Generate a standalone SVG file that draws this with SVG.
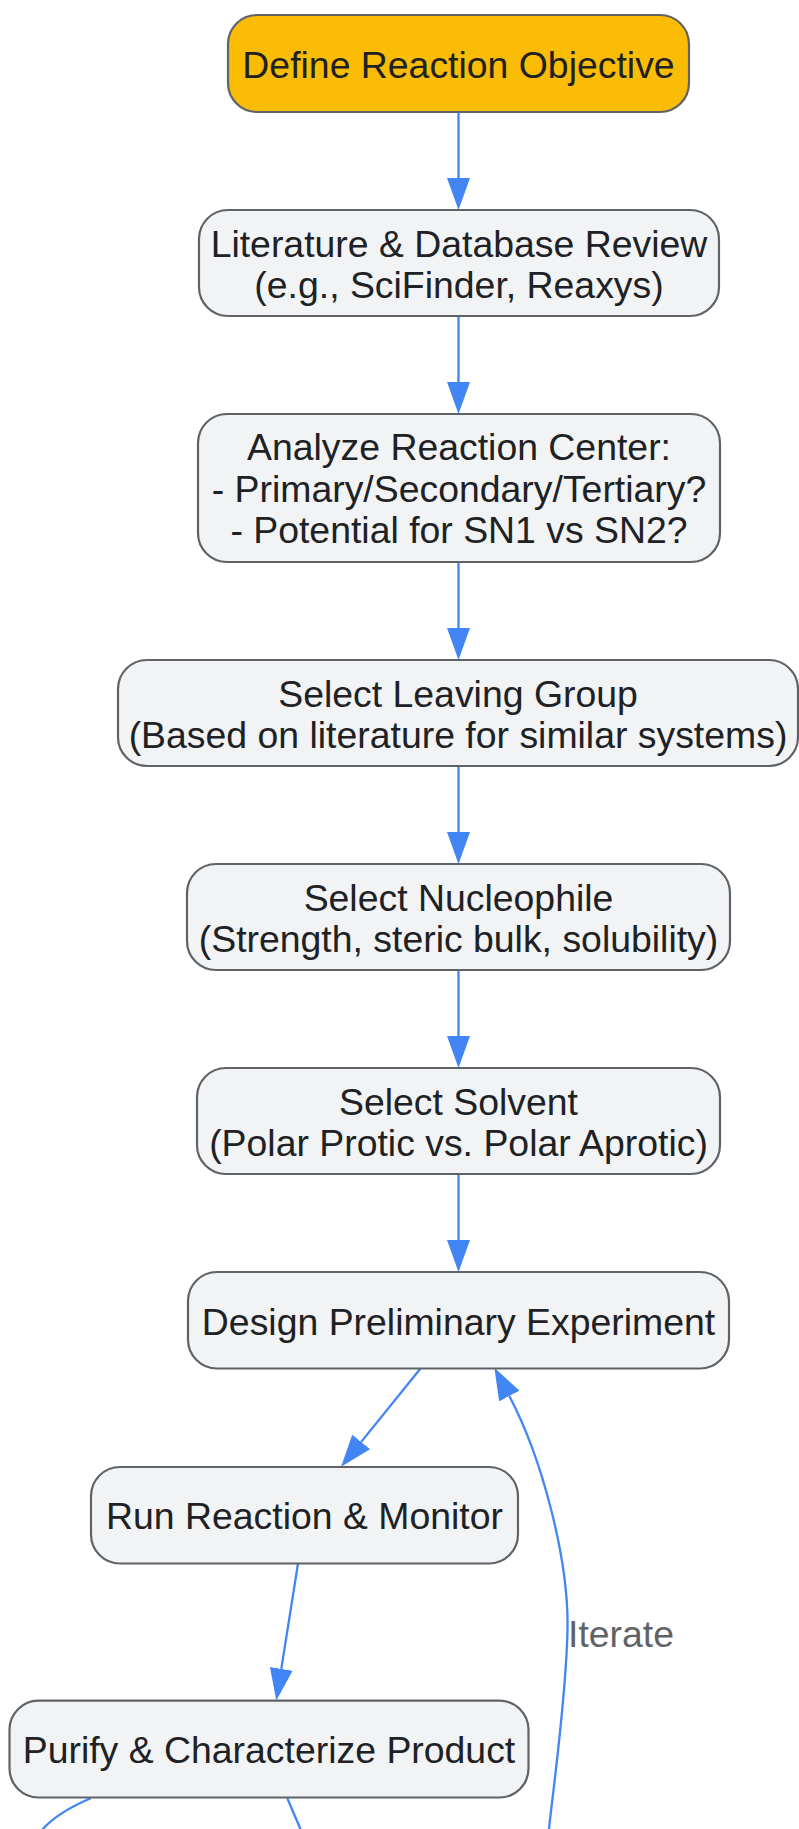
<svg xmlns="http://www.w3.org/2000/svg" width="799" height="1829" viewBox="0 0 799 1829">
<style>
.n rect{fill:#f1f3f4;stroke:#5f6368;stroke-width:2.2}
.n.start rect{fill:#fbbc05}
.n text{font-family:"Liberation Sans",Arial,sans-serif;font-size:37.4px;fill:#202124;text-anchor:middle}
.e path{fill:none;stroke:#4285f4;stroke-width:2.3}
.lbl{font-family:"Liberation Sans",Arial,sans-serif;font-size:37.4px;fill:#5f6368}
</style>
<defs>
<marker id="ah" markerUnits="userSpaceOnUse" markerWidth="32" markerHeight="23" viewBox="0 0 32 23" refX="0" refY="11.5" orient="auto">
<path d="M0,0 L32,11.5 L0,23 z" fill="#4285f4"/>
</marker>
</defs>
<rect width="799" height="1829" fill="#ffffff"/>
<g id="edges" class="e">
<path d="M458.5,112 L458.5,178" marker-end="url(#ah)"/>
<path d="M458.5,316 L458.5,382" marker-end="url(#ah)"/>
<path d="M458.5,562 L458.5,628" marker-end="url(#ah)"/>
<path d="M458.5,766 L458.5,832" marker-end="url(#ah)"/>
<path d="M458.5,970 L458.5,1036" marker-end="url(#ah)"/>
<path d="M458.5,1174 L458.5,1240" marker-end="url(#ah)"/>
<path d="M420.7,1368.3 L361.2,1441.9" marker-end="url(#ah)"/>
<path d="M298,1563.5 L281.3,1668.9" marker-end="url(#ah)"/>
<path d="M549,1829 C553,1790 566,1700 567.5,1630 C569,1560 542,1458 509.3,1396" marker-end="url(#ah)"/>
<path d="M90.7,1798.3 C75,1805 50,1818 38,1835"/>
<path d="M287.3,1798.3 L303,1835"/>
<text class="lbl" x="568" y="1646.5">Iterate</text>
</g>
<g id="n1" class="n start">
<rect x="228" y="15" width="461" height="97" rx="29"/>
<text x="458.5" y="78">Define Reaction Objective</text>
</g>
<g id="n2" class="n">
<rect x="199" y="210" width="520" height="106" rx="29"/>
<text x="459" y="256.5">Literature &amp; Database Review</text>
<text x="459" y="297.5">(e.g., SciFinder, Reaxys)</text>
</g>
<g id="n3" class="n">
<rect x="198" y="414" width="522" height="148" rx="29"/>
<text x="459" y="460">Analyze Reaction Center:</text>
<text x="459" y="501.7">- Primary/Secondary/Tertiary?</text>
<text x="459" y="543.4">- Potential for SN1 vs SN2?</text>
</g>
<g id="n4" class="n">
<rect x="118" y="660" width="680" height="106" rx="29"/>
<text x="458" y="706.5">Select Leaving Group</text>
<text x="458" y="748">(Based on literature for similar systems)</text>
</g>
<g id="n5" class="n">
<rect x="187" y="864" width="543" height="106" rx="29"/>
<text x="458.5" y="910.5">Select Nucleophile</text>
<text x="458.5" y="952">(Strength, steric bulk, solubility)</text>
</g>
<g id="n6" class="n">
<rect x="197" y="1068" width="523" height="106" rx="29"/>
<text x="458.5" y="1114.5">Select Solvent</text>
<text x="458.5" y="1156">(Polar Protic vs. Polar Aprotic)</text>
</g>
<g id="n7" class="n">
<rect x="188" y="1272" width="541" height="96.5" rx="29"/>
<text x="458.5" y="1335">Design Preliminary Experiment</text>
</g>
<g id="n8" class="n">
<rect x="91" y="1467" width="427" height="96.5" rx="29"/>
<text x="304.5" y="1529">Run Reaction &amp; Monitor</text>
</g>
<g id="n9" class="n">
<rect x="9.5" y="1700.7" width="519" height="96.8" rx="29"/>
<text x="269" y="1763.4">Purify &amp; Characterize Product</text>
</g>
</svg>
